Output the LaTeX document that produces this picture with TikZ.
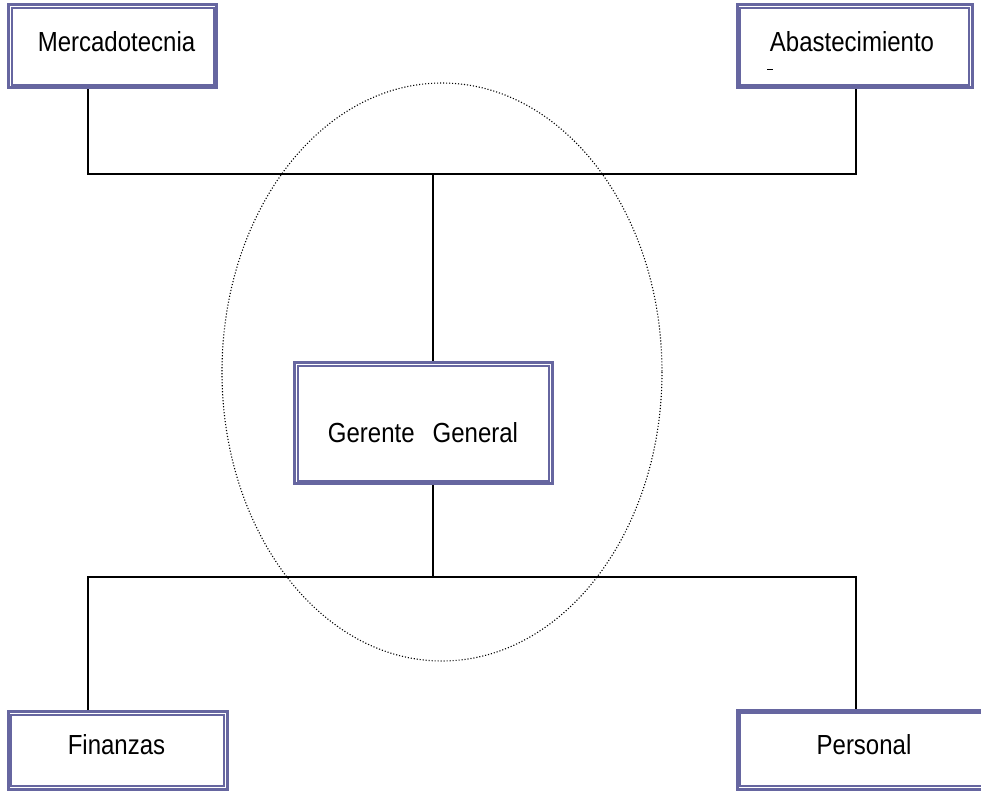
\documentclass[tikz,border=0pt]{standalone}
\usepackage{fontspec}
\setmainfont{Liberation Sans}
\usetikzlibrary{calc}
\definecolor{framecol}{RGB}{102,102,160}
\newcommand{\tallcap}[1]{\scalebox{1}[1.15]{#1}}
\begin{document}
\begin{tikzpicture}[x=1pt,y=-1pt,
  outerframe/.style={draw=framecol, line width=3pt, inner sep=0pt},
  innerframe/.style={draw=framecol, line width=2pt},
  caption/.style={font=\fontsize{24}{28}\selectfont, inner sep=0pt},
  link/.style={draw=black, line width=1.6pt},
  halo/.style={draw=black, line width=1.1pt, dash pattern=on 1.1pt off 1.9pt}]
\useasboundingbox (0,0) rectangle (981,791);
\clip (0,0) rectangle (981,791);

% dotted ellipse round the general manager
\draw[halo] (442,372) ellipse [x radius=220, y radius=289];

% department boxes (outer frame)
\node[outerframe, minimum width=208, minimum height=83] (m) at (112.5,46.5) {};
\node[outerframe, minimum width=235, minimum height=83] (a) at (854.5,46.5) {};
\node[outerframe, minimum width=257.5, minimum height=121] (g) at (423.25,423) {};
\node[outerframe, minimum width=219, minimum height=77.5] (f) at (117.5,750.25) {};
\node[outerframe, minimum width=258, minimum height=79] (p) at (866,749.5) {};

% inner frame of each box
\foreach \b in {m,a,g,f,p}
  \draw[innerframe] ($(\b.north west)+(4.5,4.5)$) rectangle ($(\b.south east)+(-4.5,-4.5)$);

% box captions
\node[caption] (mt) at (116.5,42) {\tallcap{Mercadotecnia}};
\node[caption] (at) at (852,42) {\tallcap{Abastecimiento}};
\node[caption] (gt) at (423,433) {\tallcap{Gerente\hspace{18pt}General}};
\node[caption] (ft) at (116.5,745) {\tallcap{Finanzas}};
\node[caption] (pt) at (864,745) {\tallcap{Personal}};
\draw[line width=1pt] (767,70) -- (773,70);

% junction points of the connectors
\coordinate (ul) at (88,174);
\coordinate (ur) at (856,174);
\coordinate (uc) at (433,174);
\coordinate (ll) at (88,577);
\coordinate (lr) at (856,577);
\coordinate (lc) at (433,577);

\draw[link] (m.south -| ul) -- (ul) -- (ur) -- (a.south -| ur);
\draw[link] (uc) -- (g.north -| uc);
\draw[link] (g.south -| lc) -- (lc);
\draw[link] (f.north -| ll) -- (ll) -- (lr) -- (p.north -| lr);
\end{tikzpicture}
\end{document}
